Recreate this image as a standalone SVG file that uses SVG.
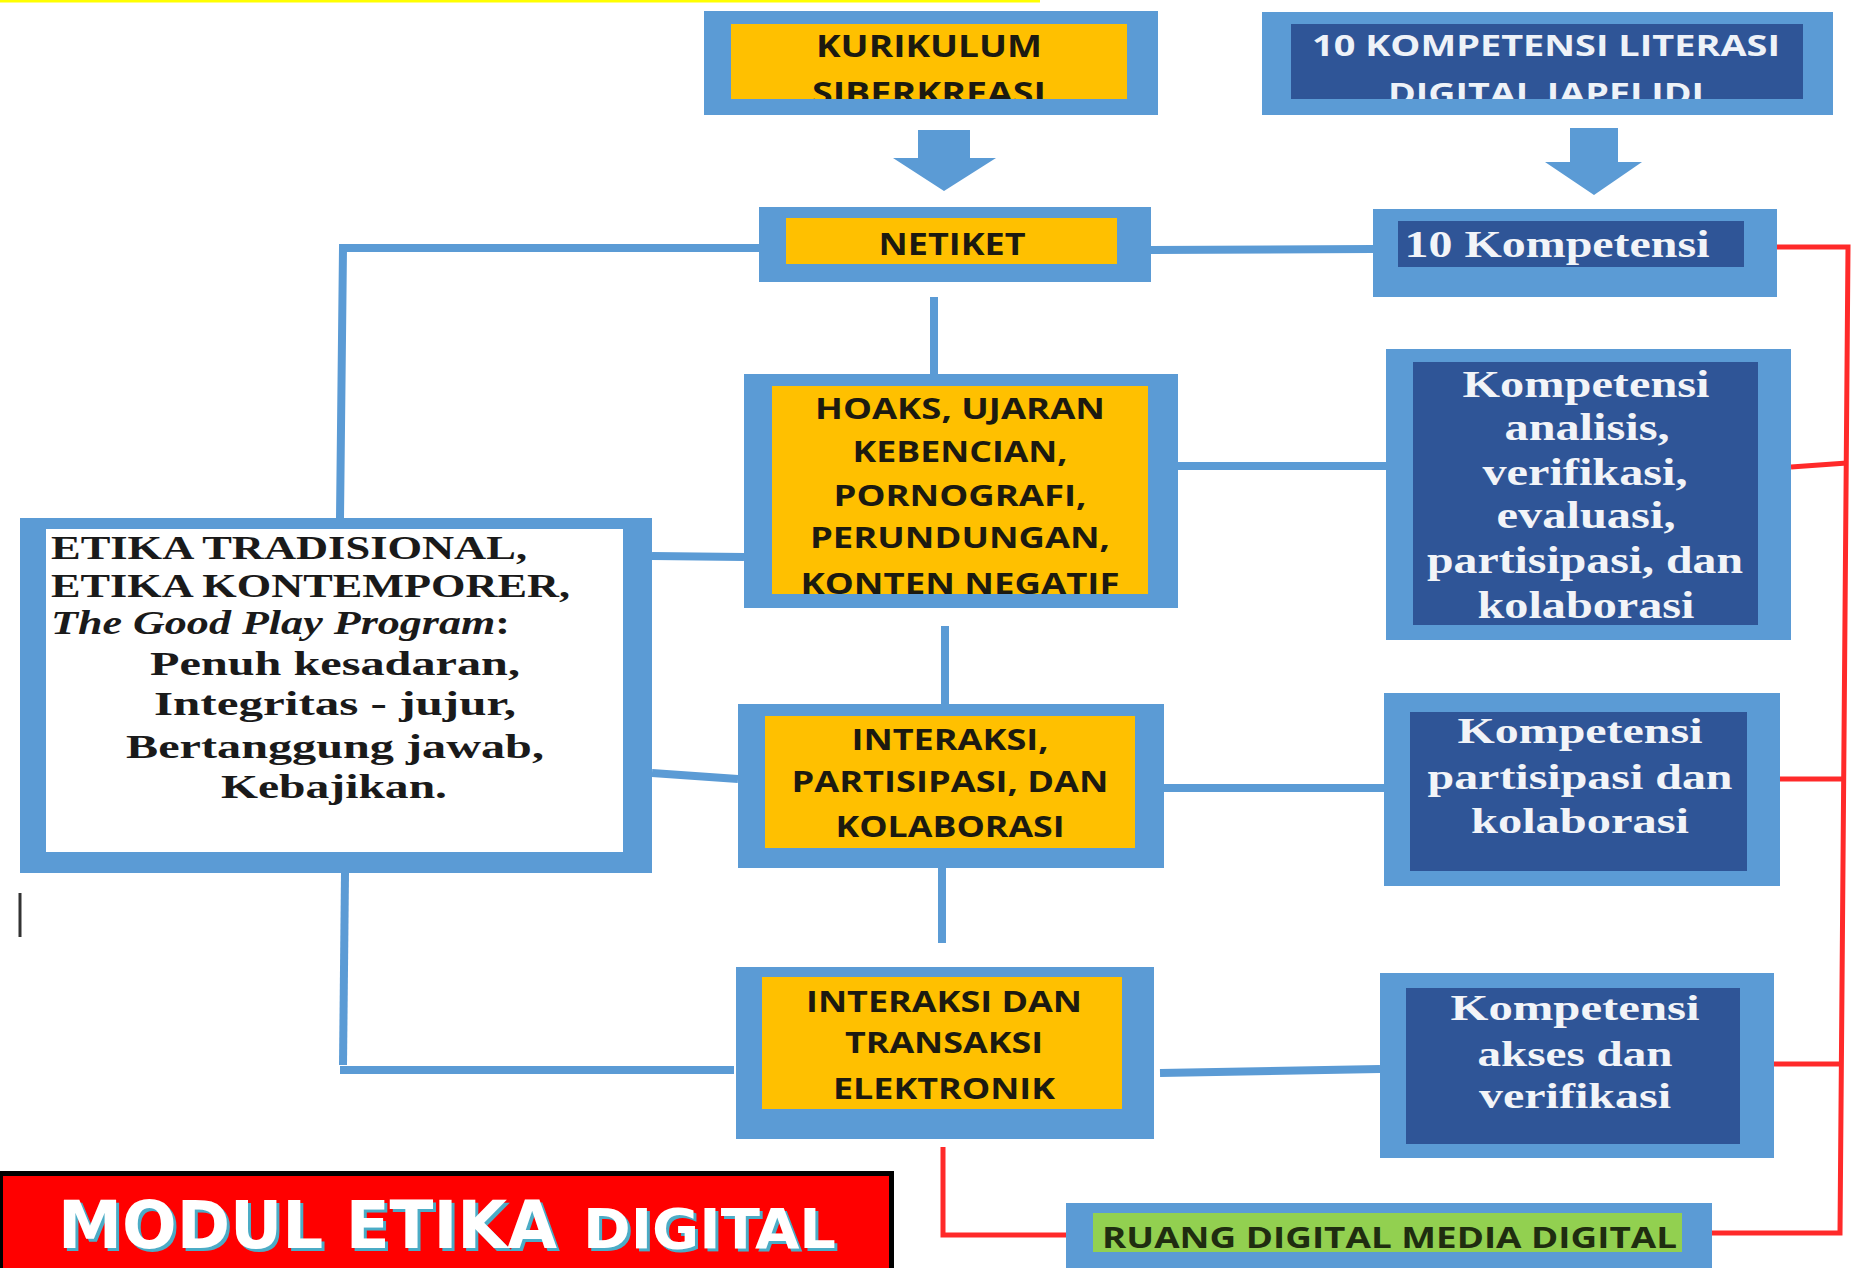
<svg xmlns="http://www.w3.org/2000/svg" width="1861" height="1268" viewBox="0 0 1861 1268">
<style>
.edge{fill:#5b9bd5}
.yel{fill:#ffc000}
.dk{fill:#2f5597}
.grn{fill:#92d050}
.ys{font-family:"Open Sans","DejaVu Sans",sans-serif;font-weight:700;fill:#1c1a10;text-anchor:middle}
.ws{font-family:"Open Sans","DejaVu Sans",sans-serif;font-weight:700;fill:#eef2f8;text-anchor:middle}
.wr{font-family:"Liberation Serif","DejaVu Serif",serif;font-weight:700;fill:#f2f4f8;text-anchor:middle}
.br{font-family:"Liberation Serif","DejaVu Serif",serif;font-weight:700;fill:#1a1a1a}
.bl{stroke:#5b9bd5;stroke-width:8;fill:none}
.rd{stroke:#ff2a2a;stroke-width:5;fill:none}
.modul{font-family:"DejaVu Sans Condensed","Liberation Sans",sans-serif;font-weight:700}
</style>
<defs>
<clipPath id="cKur"><rect x="731" y="24" width="396" height="75"/></clipPath>
<clipPath id="cLit"><rect x="1291" y="24" width="512" height="75"/></clipPath>
<clipPath id="cHoa"><rect x="772" y="386" width="376" height="208"/></clipPath>
</defs>
<rect width="1861" height="1268" fill="#ffffff"/>
<rect x="0" y="0" width="1040" height="2.5" fill="#ffff00"/>
<line x1="20" y1="893" x2="20" y2="937" stroke="#333" stroke-width="3"/>

<g id="connectors">
<polygon class="edge" points="918,130 970,130 970,158 996,158 944,191 893,158 918,158"/>
<polygon class="edge" points="1570,128 1618,128 1618,162 1642,162 1594,195 1545,162 1570,162"/>
<polyline class="bl" points="760,248 343,248 340,518"/>
<line class="bl" x1="1151" y1="250" x2="1373" y2="249"/>
<line class="bl" x1="934" y1="297" x2="934" y2="374"/>
<line class="bl" x1="652" y1="556" x2="744" y2="557"/>
<line class="bl" x1="1178" y1="466" x2="1386" y2="466"/>
<line class="bl" x1="945" y1="626" x2="945" y2="704"/>
<line class="bl" x1="652" y1="773" x2="738" y2="779"/>
<line class="bl" x1="1164" y1="788" x2="1384" y2="788"/>
<line class="bl" x1="942" y1="868" x2="942" y2="943"/>
<line class="bl" x1="345" y1="873" x2="343" y2="1065"/>
<line class="bl" x1="340" y1="1070" x2="734" y2="1070"/>
<line class="bl" x1="1160" y1="1073" x2="1380" y2="1069"/>
<polyline class="rd" points="1777,247 1848,247 1840,1233 1712,1233"/>
<line class="rd" x1="1791" y1="467" x2="1847" y2="463"/>
<line class="rd" x1="1780" y1="779" x2="1844" y2="779"/>
<line class="rd" x1="1774" y1="1064" x2="1843" y2="1064"/>
<polyline class="rd" points="943,1147 943,1235 1066,1235"/>
</g>

<g id="kurikulum">
<rect class="edge" x="704" y="11" width="454" height="104"/>
<rect class="yel" x="731" y="24" width="396" height="75"/>
<g clip-path="url(#cKur)">
<text class="ys" x="929" y="57" font-size="30" textLength="226" lengthAdjust="spacingAndGlyphs">KURIKULUM</text>
<text class="ys" x="929" y="104" font-size="30" textLength="234" lengthAdjust="spacingAndGlyphs">SIBERKREASI</text>
</g>
</g>

<g id="literasi">
<rect class="edge" x="1262" y="12" width="571" height="103"/>
<rect class="dk" x="1291" y="24" width="512" height="75"/>
<g clip-path="url(#cLit)">
<text class="ws" x="1546" y="56" font-size="28" textLength="468" lengthAdjust="spacingAndGlyphs">10 KOMPETENSI LITERASI</text>
<text class="ws" x="1546" y="104" font-size="28" textLength="316" lengthAdjust="spacingAndGlyphs">DIGITAL JAPELIDI</text>
</g>
</g>

<g id="netiket">
<rect class="edge" x="759" y="207" width="392" height="75"/>
<rect class="yel" x="786" y="218" width="331" height="46"/>
<text class="ys" x="952" y="255" font-size="30" textLength="147" lengthAdjust="spacingAndGlyphs">NETIKET</text>
</g>

<g id="kompetensi10">
<rect class="edge" x="1373" y="209" width="404" height="88"/>
<rect class="dk" x="1398" y="221" width="346" height="46"/>
<text class="wr" x="1557" y="257" font-size="38" textLength="305" lengthAdjust="spacingAndGlyphs">10 Kompetensi</text>
</g>

<g id="hoaks">
<rect class="edge" x="744" y="374" width="434" height="234"/>
<rect class="yel" x="772" y="386" width="376" height="208"/>
<g clip-path="url(#cHoa)">
<text class="ys" x="960" y="419" font-size="28" textLength="290" lengthAdjust="spacingAndGlyphs">HOAKS, UJARAN</text>
<text class="ys" x="960" y="462" font-size="28" textLength="215" lengthAdjust="spacingAndGlyphs">KEBENCIAN,</text>
<text class="ys" x="960" y="506" font-size="28" textLength="253" lengthAdjust="spacingAndGlyphs">PORNOGRAFI,</text>
<text class="ys" x="960" y="548" font-size="28" textLength="300" lengthAdjust="spacingAndGlyphs">PERUNDUNGAN,</text>
<text class="ys" x="960" y="594" font-size="28" textLength="319" lengthAdjust="spacingAndGlyphs">KONTEN NEGATIF</text>
</g>
</g>

<g id="analisis">
<rect class="edge" x="1386" y="349" width="405" height="291"/>
<rect class="dk" x="1413" y="362" width="345" height="263"/>
<text class="wr" x="1586" y="397" font-size="37" textLength="247" lengthAdjust="spacingAndGlyphs">Kompetensi</text>
<text class="wr" x="1587" y="440" font-size="37" textLength="165" lengthAdjust="spacingAndGlyphs">analisis,</text>
<text class="wr" x="1585" y="485" font-size="37" textLength="205" lengthAdjust="spacingAndGlyphs">verifikasi,</text>
<text class="wr" x="1586" y="528" font-size="37" textLength="179" lengthAdjust="spacingAndGlyphs">evaluasi,</text>
<text class="wr" x="1585" y="573" font-size="37" textLength="316" lengthAdjust="spacingAndGlyphs">partisipasi, dan</text>
<text class="wr" x="1586" y="618" font-size="37" textLength="217" lengthAdjust="spacingAndGlyphs">kolaborasi</text>
</g>

<g id="etika">
<rect class="edge" x="20" y="518" width="632" height="355"/>
<rect fill="#ffffff" x="46" y="529" width="577" height="323"/>
<text class="br" x="51" y="559" font-size="34" textLength="476" lengthAdjust="spacingAndGlyphs">ETIKA TRADISIONAL,</text>
<text class="br" x="51" y="597" font-size="34" textLength="519" lengthAdjust="spacingAndGlyphs">ETIKA KONTEMPORER,</text>
<text class="br" x="51" y="634" font-size="34" textLength="459" lengthAdjust="spacingAndGlyphs"><tspan font-style="italic">The Good Play Program</tspan>:</text>
<text class="br" x="335" y="675" font-size="34" text-anchor="middle" textLength="370" lengthAdjust="spacingAndGlyphs">Penuh kesadaran,</text>
<text class="br" x="335" y="715" font-size="34" text-anchor="middle" textLength="362" lengthAdjust="spacingAndGlyphs">Integritas - jujur,</text>
<text class="br" x="335" y="758" font-size="34" text-anchor="middle" textLength="418" lengthAdjust="spacingAndGlyphs">Bertanggung jawab,</text>
<text class="br" x="334" y="798" font-size="34" text-anchor="middle" textLength="226" lengthAdjust="spacingAndGlyphs">Kebajikan.</text>
</g>

<g id="interaksi">
<rect class="edge" x="738" y="704" width="426" height="164"/>
<rect class="yel" x="765" y="716" width="370" height="132"/>
<text class="ys" x="950" y="750" font-size="29" textLength="197" lengthAdjust="spacingAndGlyphs">INTERAKSI,</text>
<text class="ys" x="950" y="792" font-size="29" textLength="317" lengthAdjust="spacingAndGlyphs">PARTISIPASI, DAN</text>
<text class="ys" x="950" y="837" font-size="29" textLength="229" lengthAdjust="spacingAndGlyphs">KOLABORASI</text>
</g>

<g id="partisipasi">
<rect class="edge" x="1384" y="693" width="396" height="193"/>
<rect class="dk" x="1410" y="712" width="337" height="159"/>
<text class="wr" x="1580" y="743" font-size="36" textLength="245" lengthAdjust="spacingAndGlyphs">Kompetensi</text>
<text class="wr" x="1580" y="789" font-size="36" textLength="305" lengthAdjust="spacingAndGlyphs">partisipasi dan</text>
<text class="wr" x="1580" y="833" font-size="36" textLength="218" lengthAdjust="spacingAndGlyphs">kolaborasi</text>
</g>

<g id="transaksi">
<rect class="edge" x="736" y="967" width="418" height="172"/>
<rect class="yel" x="762" y="977" width="360" height="132"/>
<text class="ys" x="944" y="1012" font-size="29" textLength="276" lengthAdjust="spacingAndGlyphs">INTERAKSI DAN</text>
<text class="ys" x="944" y="1053" font-size="29" textLength="198" lengthAdjust="spacingAndGlyphs">TRANSAKSI</text>
<text class="ys" x="944" y="1099" font-size="29" textLength="222" lengthAdjust="spacingAndGlyphs">ELEKTRONIK</text>
</g>

<g id="akses">
<rect class="edge" x="1380" y="973" width="394" height="185"/>
<rect class="dk" x="1406" y="988" width="334" height="156"/>
<text class="wr" x="1575" y="1020" font-size="36" textLength="249" lengthAdjust="spacingAndGlyphs">Kompetensi</text>
<text class="wr" x="1575" y="1066" font-size="36" textLength="195" lengthAdjust="spacingAndGlyphs">akses dan</text>
<text class="wr" x="1575" y="1108" font-size="36" textLength="192" lengthAdjust="spacingAndGlyphs">verifikasi</text>
</g>

<g id="ruang">
<rect class="edge" x="1066" y="1203" width="646" height="70"/>
<rect class="grn" x="1093" y="1213" width="589" height="39"/>
<text x="1102" y="1248" font-family="'Open Sans','DejaVu Sans',sans-serif" font-weight="700" font-size="28" fill="#1f2d10" textLength="575" lengthAdjust="spacingAndGlyphs">RUANG DIGITAL MEDIA DIGITAL</text>
</g>

<g id="modul">
<rect x="0" y="1171" width="894" height="100" fill="#000000"/>
<rect x="3" y="1176" width="886" height="95" fill="#ff0000"/>
<g class="modul">
<text x="61" y="1251" font-size="66" fill="#4bacc6" textLength="499" lengthAdjust="spacingAndGlyphs">MODUL ETIKA</text>
<text x="586" y="1251" font-size="56" fill="#4bacc6" textLength="253" lengthAdjust="spacingAndGlyphs">DIGITAL</text>
<text x="58" y="1248" font-size="66" fill="#ffffff" textLength="499" lengthAdjust="spacingAndGlyphs">MODUL ETIKA</text>
<text x="583" y="1248" font-size="56" fill="#ffffff" textLength="253" lengthAdjust="spacingAndGlyphs">DIGITAL</text>
</g>
</g>
</svg>
